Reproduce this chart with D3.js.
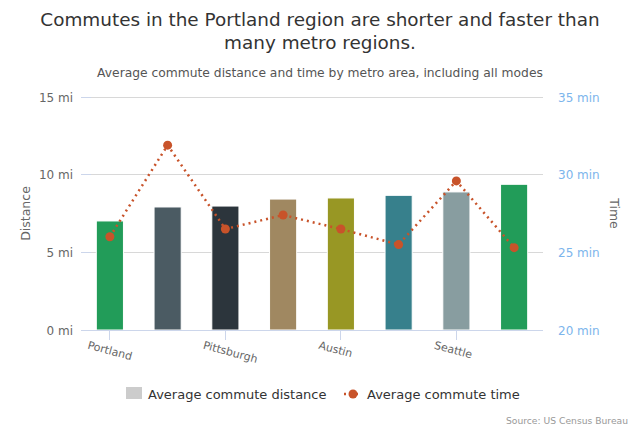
<!DOCTYPE html>
<html><head><meta charset="utf-8">
<script src="https://cdn.jsdelivr.net/npm/d3@7"></script>
<style>
body{margin:0;background:#fff;}
svg{font-family:"DejaVu Sans",sans-serif;display:block;}
</style></head>
<body><svg id="c" width="640" height="427"></svg>
<script>
const categories=["Portland","San Francisco","Pittsburgh","Denver","Austin","Sacramento","Seattle","Charlotte"];
const distance=[7.02,7.92,7.98,8.43,8.5,8.67,8.89,9.38];
const time=[26.0,31.9,26.5,27.4,26.5,25.5,29.6,25.3];
const barColors=["#229c59","#4b5b63","#2c353c","#a08861","#989724","#37808c","#889da0","#229c59"];
const distTicks=[0,5,10,15];
const timeTicks=[20,25,30,35];
const shownLabels=["Portland","Pittsburgh","Austin","Seattle"];

const svg=d3.select("#c");
const L=81,R=543,T=97,B=330;
const x=d3.scaleBand().domain(categories).range([L,R]).paddingInner(0.53).paddingOuter(0.265);
const yL=d3.scaleLinear().domain([0,15]).range([B,T]);
const yR=d3.scaleLinear().domain([20,35]).range([B,T]);

// title
svg.append("text").attr("x",320).attr("y",26).attr("text-anchor","middle").attr("font-size",18.4).attr("fill","#333")
  .text("Commutes in the Portland region are shorter and faster than");
svg.append("text").attr("x",320).attr("y",49).attr("text-anchor","middle").attr("font-size",18.4).attr("fill","#333")
  .text("many metro regions.");
svg.append("text").attr("x",320).attr("y",77).attr("text-anchor","middle").attr("font-size",12.3).attr("fill","#555")
  .text("Average commute distance and time by metro area, including all modes");

// grid
svg.append("g").selectAll("line").data(distTicks.slice(1)).join("line")
  .attr("x1",L).attr("x2",R).attr("y1",d=>yL(d)).attr("y2",d=>yL(d))
  .attr("stroke","#d8d8d8").attr("stroke-width",1).attr("shape-rendering","crispEdges");
svg.append("g").selectAll("line").data(distTicks).join("line")
  .attr("x1",L).attr("x2",L+10).attr("y1",d=>yL(d)).attr("y2",d=>yL(d))
  .attr("stroke","#ccd6eb").attr("stroke-width",1).attr("shape-rendering","crispEdges");

// left axis
const gL=svg.append("g").attr("transform",`translate(${L-8},0)`)
  .call(d3.axisLeft(yL).tickValues(distTicks).tickSize(0).tickFormat(d=>d+" mi"));
gL.select(".domain").remove();
gL.selectAll("text").attr("font-size",12).attr("fill","#666").attr("font-family","DejaVu Sans").attr("dy","0.35em").attr("x",0);
svg.append("text").attr("transform",`translate(30,${(T+B)/2}) rotate(-90)`).attr("text-anchor","middle")
  .attr("font-size",12.5).attr("fill","#666").text("Distance");

// right axis
const gR=svg.append("g").attr("transform",`translate(${R+15},0)`)
  .call(d3.axisRight(yR).tickValues(timeTicks).tickSize(0).tickFormat(d=>d+" min"));
gR.select(".domain").remove();
gR.selectAll("text").attr("font-size",12).attr("fill","#7cb5ec").attr("font-family","DejaVu Sans").attr("dy","0.35em").attr("x",0);
svg.append("text").attr("transform",`translate(610,${(T+B)/2}) rotate(90)`).attr("text-anchor","middle")
  .attr("font-size",12.5).attr("fill","#666").text("Time");

// bars
svg.append("g").selectAll("rect").data(categories).join("rect")
  .attr("x",d=>x(d)).attr("width",x.bandwidth())
  .attr("y",(d,i)=>yL(distance[i])).attr("height",(d,i)=>B-yL(distance[i]))
  .attr("fill",(d,i)=>barColors[i]).attr("stroke","#fff").attr("stroke-width",1);

// x axis
svg.append("line").attr("x1",L).attr("x2",R).attr("y1",B+0.5).attr("y2",B+0.5).attr("stroke","#ccd6eb");
const gx=svg.append("g");
gx.selectAll("line").data(shownLabels).join("line")
  .attr("x1",d=>x(d)+x.bandwidth()/2).attr("x2",d=>x(d)+x.bandwidth()/2)
  .attr("y1",B).attr("y2",B+10).attr("stroke","#ccd6eb").attr("shape-rendering","crispEdges");
gx.selectAll("text").data(shownLabels).join("text")
  .attr("transform",d=>`translate(${x(d)+x.bandwidth()/2-21},${B+11}) rotate(15)`)
  .attr("font-size",11).attr("fill","#666").attr("dy","0.7em").text(d=>d);

// line
const cx=(d,i)=>x(categories[i])+x.bandwidth()/2;
const line=d3.line().x((d,i)=>cx(d,i)).y(d=>yR(d));
svg.append("path").datum(time).attr("d",line).attr("fill","none").attr("stroke","#c8532a")
  .attr("stroke-width",2.5).attr("stroke-dasharray","2,4");
svg.append("g").selectAll("circle").data(time).join("circle")
  .attr("cx",(d,i)=>cx(d,i)).attr("cy",d=>yR(d)).attr("r",4.5).attr("fill","#c8532a");

// legend
svg.append("rect").attr("x",126).attr("y",387).attr("width",16).attr("height",12).attr("fill","#cccccc");
svg.append("text").attr("x",148).attr("y",398.5).attr("font-size",13).attr("fill","#333").text("Average commute distance");
svg.append("line").attr("x1",344).attr("x2",361).attr("y1",394).attr("y2",394).attr("stroke","#c8532a").attr("stroke-width",2.5).attr("stroke-dasharray","2,4");
svg.append("circle").attr("cx",353).attr("cy",394).attr("r",4.5).attr("fill","#c8532a");
svg.append("text").attr("x",367).attr("y",398.5).attr("font-size",13).attr("fill","#333").text("Average commute time");

svg.append("text").attr("x",628).attr("y",424).attr("text-anchor","end").attr("font-size",9.2).attr("fill","#999").text("Source: US Census Bureau");
</script></body></html>
